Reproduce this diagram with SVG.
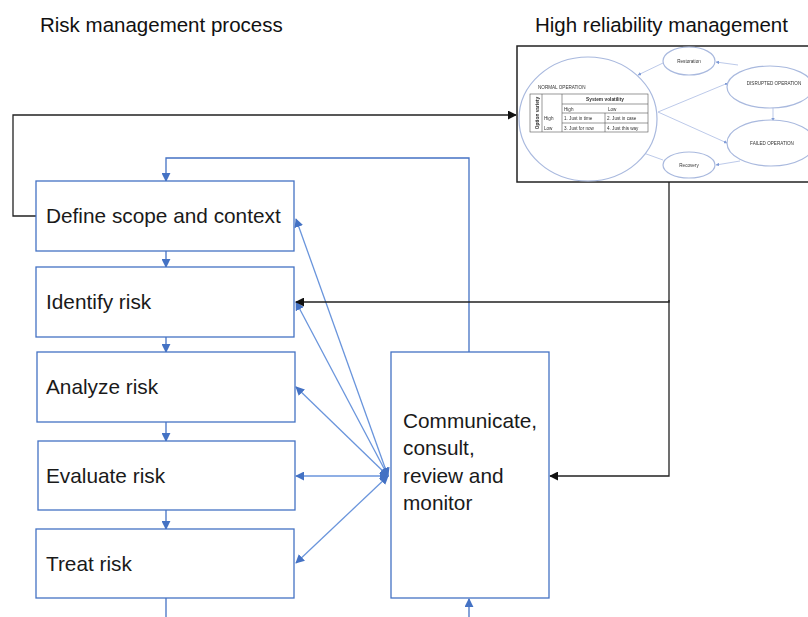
<svg xmlns="http://www.w3.org/2000/svg" width="808" height="617" viewBox="0 0 808 617">
  <defs>
    <marker id="arrBlue" viewBox="0 0 10 10" refX="9" refY="5" markerWidth="9" markerHeight="9" markerUnits="userSpaceOnUse" orient="auto-start-reverse">
      <path d="M0,0 L10,5 L0,10 z" fill="#4472C4"/>
    </marker>
    <marker id="arrBlack" viewBox="0 0 10 10" refX="9" refY="5" markerWidth="9" markerHeight="9" markerUnits="userSpaceOnUse" orient="auto">
      <path d="M0,0 L10,5 L0,10 z" fill="#111"/>
    </marker>
    <marker id="arrTiny" viewBox="0 0 10 10" refX="9" refY="5" markerWidth="3.5" markerHeight="3.5" markerUnits="userSpaceOnUse" orient="auto">
      <path d="M0,0 L10,5 L0,10 z" fill="#7f9bd6"/>
    </marker>
    <filter id="soft" x="-5%" y="-5%" width="110%" height="110%">
      <feGaussianBlur stdDeviation="0.35"/>
    </filter>
  </defs>
  <style>
    .title { font-family: "Liberation Sans", Arial, sans-serif; font-size: 20.5px; fill: #111; }
    .lbl { font-family: "Liberation Sans", Arial, sans-serif; font-size: 20.8px; fill: #1a1a1a; }
    .box { fill: #fff; stroke: #4472C4; stroke-width: 1.3; }
    .flow { fill: none; stroke: #4472C4; stroke-width: 1.3; }
    .fan { fill: none; stroke: #6a95dc; stroke-width: 1.3; }
    .blk { fill: none; stroke: #222; stroke-width: 1.3; }
    .ell { fill: #fff; stroke: #a9b9de; stroke-width: 1.2; }
    .thin { fill: none; stroke: #b4c3e6; stroke-width: 0.9; }
    .tiny { font-family: "Liberation Sans", Arial, sans-serif; font-size: 4.6px; fill: #333; }
    .tinyb { font-family: "Liberation Sans", Arial, sans-serif; font-size: 4.8px; font-weight: bold; fill: #333; }
    .grid { fill: none; stroke: #555; stroke-width: 0.6; }
  </style>

  <rect width="808" height="617" fill="#fff"/>

  <!-- headings -->
  <text class="title" x="40" y="32">Risk management process</text>
  <text class="title" x="535" y="32">High reliability management</text>

  <!-- connectors -->
  <g id="connectors">
    <!-- sequential flow -->
    <line class="flow" x1="166" y1="251" x2="166" y2="267" marker-end="url(#arrBlue)"/>
    <line class="flow" x1="166" y1="337" x2="166" y2="352" marker-end="url(#arrBlue)"/>
    <line class="flow" x1="166" y1="422" x2="166" y2="441" marker-end="url(#arrBlue)"/>
    <line class="flow" x1="166" y1="510" x2="166" y2="529" marker-end="url(#arrBlue)"/>
    <line class="flow" x1="166" y1="598" x2="166" y2="617"/>
    <!-- feedback loop back to the start -->
    <polyline class="flow" points="469,352 469,158 166,158 166,181" marker-end="url(#arrBlue)"/>
    <line class="flow" x1="469" y1="617" x2="469" y2="599" marker-end="url(#arrBlue)"/>
    <!-- communicate fan-out -->
    <line class="fan" x1="388" y1="476" x2="296" y2="219" marker-start="url(#arrBlue)" marker-end="url(#arrBlue)"/>
    <line class="fan" x1="388" y1="476" x2="296" y2="302" marker-start="url(#arrBlue)" marker-end="url(#arrBlue)"/>
    <line class="fan" x1="388" y1="476" x2="296" y2="387" marker-start="url(#arrBlue)" marker-end="url(#arrBlue)"/>
    <line class="fan" x1="388" y1="476" x2="296" y2="476" marker-start="url(#arrBlue)" marker-end="url(#arrBlue)"/>
    <line class="fan" x1="388" y1="476" x2="296" y2="563" marker-start="url(#arrBlue)" marker-end="url(#arrBlue)"/>
    <!-- links to high reliability management -->
    <polyline class="blk" points="36,216 13,216 13,115 516,115" marker-end="url(#arrBlack)"/>
    <polyline class="blk" points="669,182 669,302 296,302" marker-end="url(#arrBlack)"/>
    <polyline class="blk" points="669,300 669,476 550,476" marker-end="url(#arrBlack)"/>
  </g>

  <!-- process steps -->
  <g id="define">
    <rect class="box" x="36" y="181" width="258" height="70"/>
    <text class="lbl" x="46" y="223">Define scope and context</text>
  </g>
  <g id="identify">
    <rect class="box" x="36" y="267" width="258" height="70"/>
    <text class="lbl" x="46" y="309">Identify risk</text>
  </g>
  <g id="analyze">
    <rect class="box" x="37" y="352" width="258" height="70"/>
    <text class="lbl" x="46" y="394">Analyze risk</text>
  </g>
  <g id="evaluate">
    <rect class="box" x="38" y="441" width="257" height="69"/>
    <text class="lbl" x="46" y="483">Evaluate risk</text>
  </g>
  <g id="treat">
    <rect class="box" x="36" y="529" width="258" height="69"/>
    <text class="lbl" x="46" y="571">Treat risk</text>
  </g>
  <g id="communicate">
    <rect class="box" x="391" y="352" width="158" height="246"/>
    <text class="lbl" x="403" y="428">Communicate,</text>
    <text class="lbl" x="403" y="455">consult,</text>
    <text class="lbl" x="403" y="483">review and</text>
    <text class="lbl" x="403" y="510">monitor</text>
  </g>

  <!-- high reliability management panel -->
  <g id="hrm">
    <rect x="517" y="46" width="300" height="136" fill="#fff" stroke="#222" stroke-width="1.5"/>
    <g filter="url(#soft)">
      <!-- state transitions -->
      <line class="thin" x1="663" y1="63" x2="638" y2="75" marker-end="url(#arrTiny)"/>
      <line class="thin" x1="738" y1="65" x2="716" y2="62" marker-end="url(#arrTiny)"/>
      <line class="thin" x1="658" y1="112" x2="728" y2="83" marker-end="url(#arrTiny)"/>
      <line class="thin" x1="658" y1="112" x2="727" y2="143" marker-end="url(#arrTiny)"/>
      <line class="thin" x1="773" y1="107" x2="773" y2="121" marker-end="url(#arrTiny)"/>
      <line class="thin" x1="740" y1="161" x2="716" y2="165" marker-end="url(#arrTiny)"/>
      <line class="thin" x1="663" y1="160" x2="638" y2="151" marker-end="url(#arrTiny)"/>

      <ellipse class="ell" cx="588" cy="119" rx="69" ry="62"/>
      <ellipse class="ell" cx="689" cy="61" rx="26" ry="14"/>
      <ellipse class="ell" cx="689" cy="165" rx="26" ry="13"/>
      <ellipse class="ell" cx="770" cy="87" rx="43" ry="21"/>
      <ellipse class="ell" cx="771" cy="143" rx="44" ry="23"/>

      <text class="tiny" x="689" y="63" text-anchor="middle">Restoration</text>
      <text class="tiny" x="689" y="167" text-anchor="middle">Recovery</text>
      <text class="tiny" x="774" y="85" text-anchor="middle">DISRUPTED OPERATION</text>
      <text class="tiny" x="772" y="145" text-anchor="middle">FAILED OPERATION</text>
      <text class="tiny" x="538" y="89">NORMAL OPERATION</text>

      <!-- strategy table -->
      <rect class="grid" x="530" y="94" width="118" height="38"/>
      <line class="grid" x1="542" y1="94" x2="542" y2="132"/>
      <line class="grid" x1="562" y1="94" x2="562" y2="132"/>
      <line class="grid" x1="562" y1="104" x2="648" y2="104"/>
      <line class="grid" x1="562" y1="113" x2="648" y2="113"/>
      <line class="grid" x1="562" y1="123" x2="648" y2="123"/>
      <line class="grid" x1="605" y1="113" x2="605" y2="132"/>
      <text class="tinyb" x="537.5" y="113" text-anchor="middle" transform="rotate(-90 537.5 113)" dy="1.6">Option variety</text>
      <text class="tinyb" x="605" y="101" text-anchor="middle">System volatility</text>
      <text class="tiny" x="564" y="110.5">High</text>
      <text class="tiny" x="608" y="110.5">Low</text>
      <text class="tiny" x="544" y="120">High</text>
      <text class="tiny" x="544" y="129.5">Low</text>
      <text class="tiny" x="564" y="120">1. Just in time</text>
      <text class="tiny" x="607" y="120">2. Just in case</text>
      <text class="tiny" x="564" y="129.5">3. Just for now</text>
      <text class="tiny" x="607" y="129.5">4. Just this way</text>
    </g>
  </g>
</svg>
